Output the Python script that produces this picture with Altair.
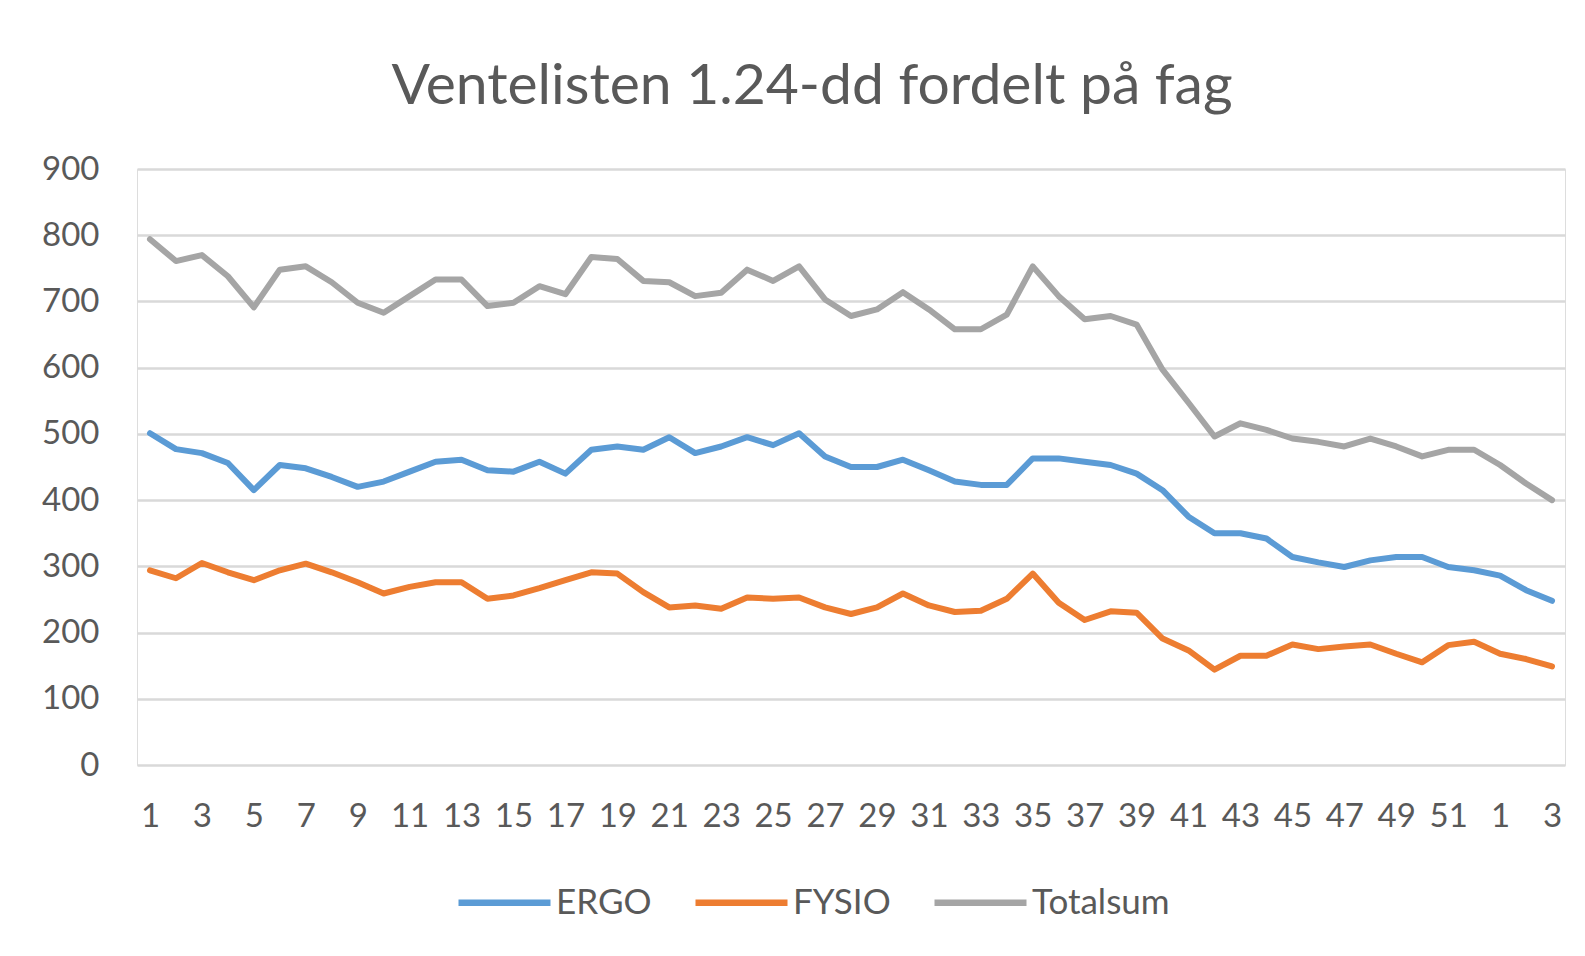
import altair as alt
import pandas as pd

# Week labels (weeks 1-52, then weeks 1-3 of the following year)
week_labels = [str(w) for w in range(1, 53)] + ["1", "2", "3"]
positions = list(range(1, len(week_labels) + 1))

series_names = ["ERGO", "FYSIO", "Totalsum"]
series_colors = ["#5B9BD5", "#ED7D31", "#A5A5A5"]

ergo = [501, 477, 471, 456, 415, 453, 448, 435, 420, 428, 443, 458, 461, 445, 443, 458, 440, 476,
        481, 476, 495, 471, 481, 495, 483, 501, 466, 450, 450, 461, 445, 428, 423, 423, 463, 463,
        458, 453, 440, 415, 375, 350, 350, 342, 314, 306, 299, 309, 314, 314, 299, 294, 286, 264, 248]

fysio = [294, 282, 305, 291, 279, 294, 304, 291, 276, 259, 269, 276, 276, 251, 256, 267, 279, 291,
         289, 261, 238, 241, 236, 253, 251, 253, 238, 228, 238, 259, 241, 231, 233, 251, 289, 245,
         219, 232, 230, 191, 173, 144, 165, 165, 182, 175, 179, 182, 168, 155, 181, 186, 168, 160, 149]

totalsum = [794, 761, 770, 738, 691, 748, 753, 729, 698, 683, 708, 733, 733, 693, 698, 723, 711, 767,
            764, 731, 729, 708, 713, 748, 731, 753, 703, 678, 688, 714, 688, 658, 658, 680, 753, 708,
            673, 678, 665, 597, 547, 496, 516, 506, 493, 488, 481, 493, 481, 466, 476, 476, 453, 425, 400]

y_ticks = list(range(0, 1000, 100))
x_tick_positions = positions[::2]

rows = []
for name, vals in zip(series_names, [ergo, fysio, totalsum]):
    for p, v in zip(positions, vals):
        rows.append({"pos": p, "serie": name, "antall": v})
df = pd.DataFrame(rows)

label_array = "[" + ",".join("'" + s + "'" for s in week_labels) + "]"
label_expr = label_array + "[datum.value - 1]"

TEXT = "#595959"
FONT = "Lato"

chart = (
    alt.Chart(df)
    .mark_line(strokeWidth=6, strokeCap="round", strokeJoin="round")
    .encode(
        x=alt.X(
            "pos:O",
            sort=positions,
            scale=alt.Scale(type="point", padding=0.5),
            axis=alt.Axis(
                title=None,
                values=x_tick_positions,
                labelExpr=label_expr,
                labelAngle=0,
                domain=False,
                ticks=False,
                grid=False,
                labelPadding=35,
                labelFontSize=33,
                labelColor=TEXT,
                labelFont=FONT,
            ),
        ),
        y=alt.Y(
            "antall:Q",
            scale=alt.Scale(domain=[0, 900], nice=False),
            axis=alt.Axis(
                title=None,
                values=y_ticks,
                domain=False,
                ticks=False,
                grid=True,
                gridColor="#D9D9D9",
                gridWidth=2.5,
                labelPadding=38,
                labelFontSize=33,
                labelColor=TEXT,
                labelFont=FONT,
            ),
        ),
        color=alt.Color(
            "serie:N",
            scale=alt.Scale(domain=series_names, range=series_colors),
            legend=alt.Legend(
                title=None,
                orient="none",
                direction="horizontal",
                legendX=318,
                legendY=684,
                symbolType="stroke",
                symbolSize=8464,
                symbolStrokeWidth=6.5,
                labelFontSize=35,
                labelColor=TEXT,
                labelFont=FONT,
                labelOffset=2,
                columnPadding=30,
                padding=0,
            ),
        ),
    )
    .properties(
        width=1428,
        height=596,
        autosize=alt.AutoSizeParams(type="none"),
        padding={"left": 129, "top": 161, "right": 12, "bottom": 180},
        title=alt.TitleParams(
            text="Ventelisten 1.24-dd fordelt på fag",
            fontSize=57,
            font=FONT,
            fontWeight="normal",
            color=TEXT,
            anchor="middle",
            frame="group",
            baseline="alphabetic",
            offset=-8,
            dx=-39,
        ),
    )
    .configure_view(stroke=None)
    .configure(background="white")
)

chart.save("out.html", embed_options={"renderer": "svg", "actions": False})
